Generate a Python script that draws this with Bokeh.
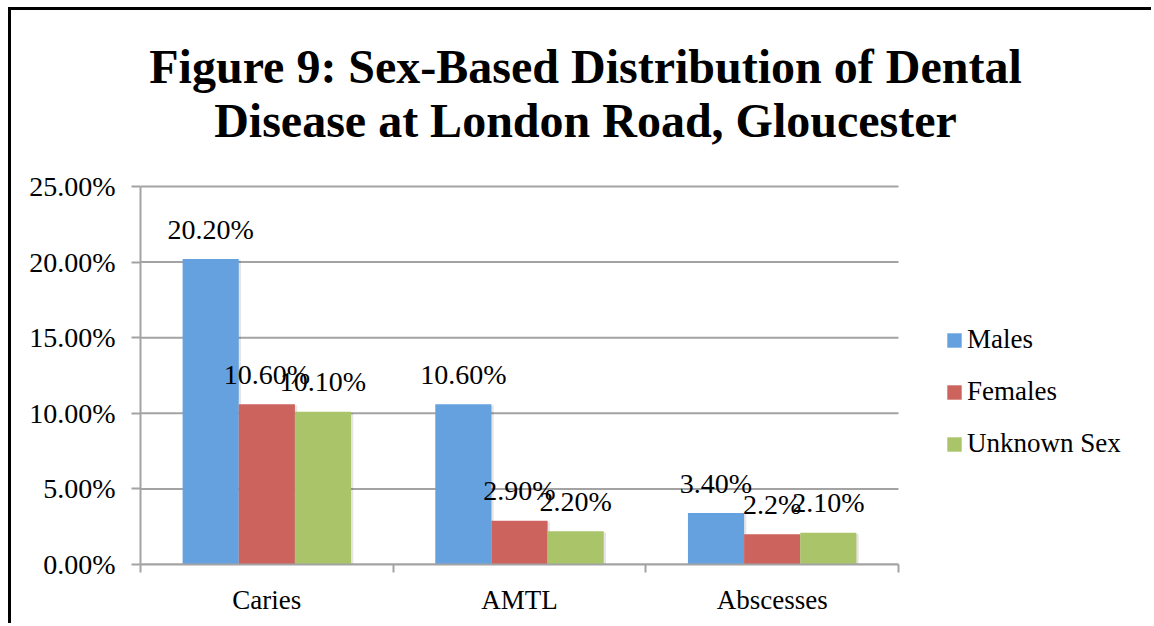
from bokeh.plotting import figure
from bokeh.models import FixedTicker, Legend, LegendItem, Label, Range1d
from bokeh.embed import file_html
from bokeh.resources import INLINE
from bokeh.core.properties import value

# ---------------- data ----------------
categories = ["Caries", "AMTL", "Abscesses"]
series_names = ["Males", "Females", "Unknown Sex"]
males = [20.2, 10.6, 3.4]
females = [10.6, 2.9, 2.0]
unknown = [10.1, 2.2, 2.1]
males_labels = ["20.20%", "10.60%", "3.40%"]
females_labels = ["10.60%", "2.90%", "2.2%"]
unknown_labels = ["10.10%", "2.20%", "2.10%"]
y_ticks = [0, 5, 10, 15, 20, 25]
y_tick_labels = ["0.00%", "5.00%", "10.00%", "15.00%", "20.00%", "25.00%"]
title_lines = ["Figure 9: Sex-Based Distribution of Dental",
               "Disease at London Road, Gloucester"]
colors = ["#65A1DE", "#CC635C", "#AAC46A"]

FONT = "Liberation Serif"
GRAY = "#a3a3a3"

# ---------------- layout (pixels) ----------------
W, H = 1143, 616
LEFT, BOTTOM = 129, 62
PLOT_W, PLOT_H = 758, 378          # size of the chart area proper
frame_w, frame_h = W - LEFT, H - BOTTOM
y_max = y_ticks[-1]
n_cat = len(categories)

p = figure(width=W, height=H, output_backend="svg", toolbar_location=None,
           title=None, tools="",
           x_range=Range1d(0, n_cat * frame_w / PLOT_W),
           y_range=Range1d(0, y_max * frame_h / PLOT_H),
           min_border_left=LEFT, min_border_right=0,
           min_border_top=0, min_border_bottom=BOTTOM)
p.styles = {"margin-left": "8px", "margin-top": "7px",
            "border-top": "3px solid black", "border-left": "3px solid black"}
p.outline_line_color = None
p.background_fill_color = "white"
p.border_fill_color = "white"
p.xgrid.grid_line_color = None
p.ygrid.grid_line_color = None

# gridlines limited to the chart area
p.segment(x0=[0] * len(y_ticks), x1=[n_cat] * len(y_ticks), y0=y_ticks, y1=y_ticks,
          line_color=GRAY, line_width=2)

bar_w = 1.0 / (len(series_names) + 1.5)
all_vals = [males, females, unknown]
all_labels = [males_labels, females_labels, unknown_labels]
renderers = []
for j, (vals, col) in enumerate(zip(all_vals, colors)):
    xs = [i + 0.5 + (j - 1) * bar_w for i in range(n_cat)]
    p.vbar(x=[x + 0.009 for x in xs], top=[v - 0.08 for v in vals], bottom=0,
           width=bar_w, fill_color="black", fill_alpha=0.10, line_color=None)
    r = p.vbar(x=xs, top=vals, bottom=0, width=bar_w, fill_color=col,
               line_color=None)
    renderers.append(r)
for j, (vals, labs) in enumerate(zip(all_vals, all_labels)):
    xs = [i + 0.5 + (j - 1) * bar_w for i in range(n_cat)]
    p.text(x=xs, y=vals, text=labs, y_offset=-30, text_align="center",
           text_baseline="alphabetic", text_font=value(FONT),
           text_font_size="28px", text_color="black")

# axes
p.xaxis.bounds = (0, n_cat)
p.xaxis.ticker = FixedTicker(ticks=[i + 0.5 for i in range(n_cat)],
                             minor_ticks=list(range(n_cat + 1)))
p.xaxis.major_label_overrides = {i + 0.5: c for i, c in enumerate(categories)}
p.xaxis.major_tick_line_color = None
p.xaxis.major_tick_out = 8
p.xaxis.major_tick_in = 0
p.xaxis.minor_tick_out = 8
p.xaxis.minor_tick_in = 0
p.xaxis.minor_tick_line_color = GRAY
p.xaxis.minor_tick_line_width = 2
p.xaxis.axis_line_color = GRAY
p.xaxis.axis_line_width = 2
p.xaxis.major_label_standoff = 12
p.xaxis.major_label_text_font_size = "27px"

p.yaxis.bounds = (0, y_max)
p.yaxis.ticker = FixedTicker(ticks=y_ticks)
p.yaxis.major_label_overrides = {t: l for t, l in zip(y_ticks, y_tick_labels)}
p.yaxis.major_tick_out = 9
p.yaxis.major_tick_in = 0
p.yaxis.minor_tick_line_color = None
p.yaxis.major_tick_line_color = GRAY
p.yaxis.major_tick_line_width = 2
p.yaxis.axis_line_color = GRAY
p.yaxis.axis_line_width = 2
p.yaxis.major_label_standoff = 16
p.yaxis.major_label_text_font_size = "28px"

for ax in (p.xaxis, p.yaxis):
    ax.major_label_text_font = FONT
    ax.major_label_text_color = "black"

legend = Legend(items=[LegendItem(label=n, renderers=[r]) for n, r in zip(series_names, renderers)],
                location=(805, 105), padding=0, margin=0, spacing=21,
                glyph_width=18, glyph_height=18, label_height=30,
                label_standoff=4, label_text_font=FONT,
                label_text_font_size="27px", label_text_color="black",
                background_fill_alpha=0, border_line_color=None)
p.add_layout(legend, "center")

# title (screen units, inside the frame)
for t, yy in zip(title_lines, [498, 444]):
    p.add_layout(Label(x=445, y=yy, x_units="screen", y_units="screen", text=t,
                       text_align="center", text_baseline="alphabetic",
                       text_font=FONT, text_font_style="bold",
                       text_font_size="48px", text_color="black"))

open("out.html", "w").write(file_html(p, INLINE))
